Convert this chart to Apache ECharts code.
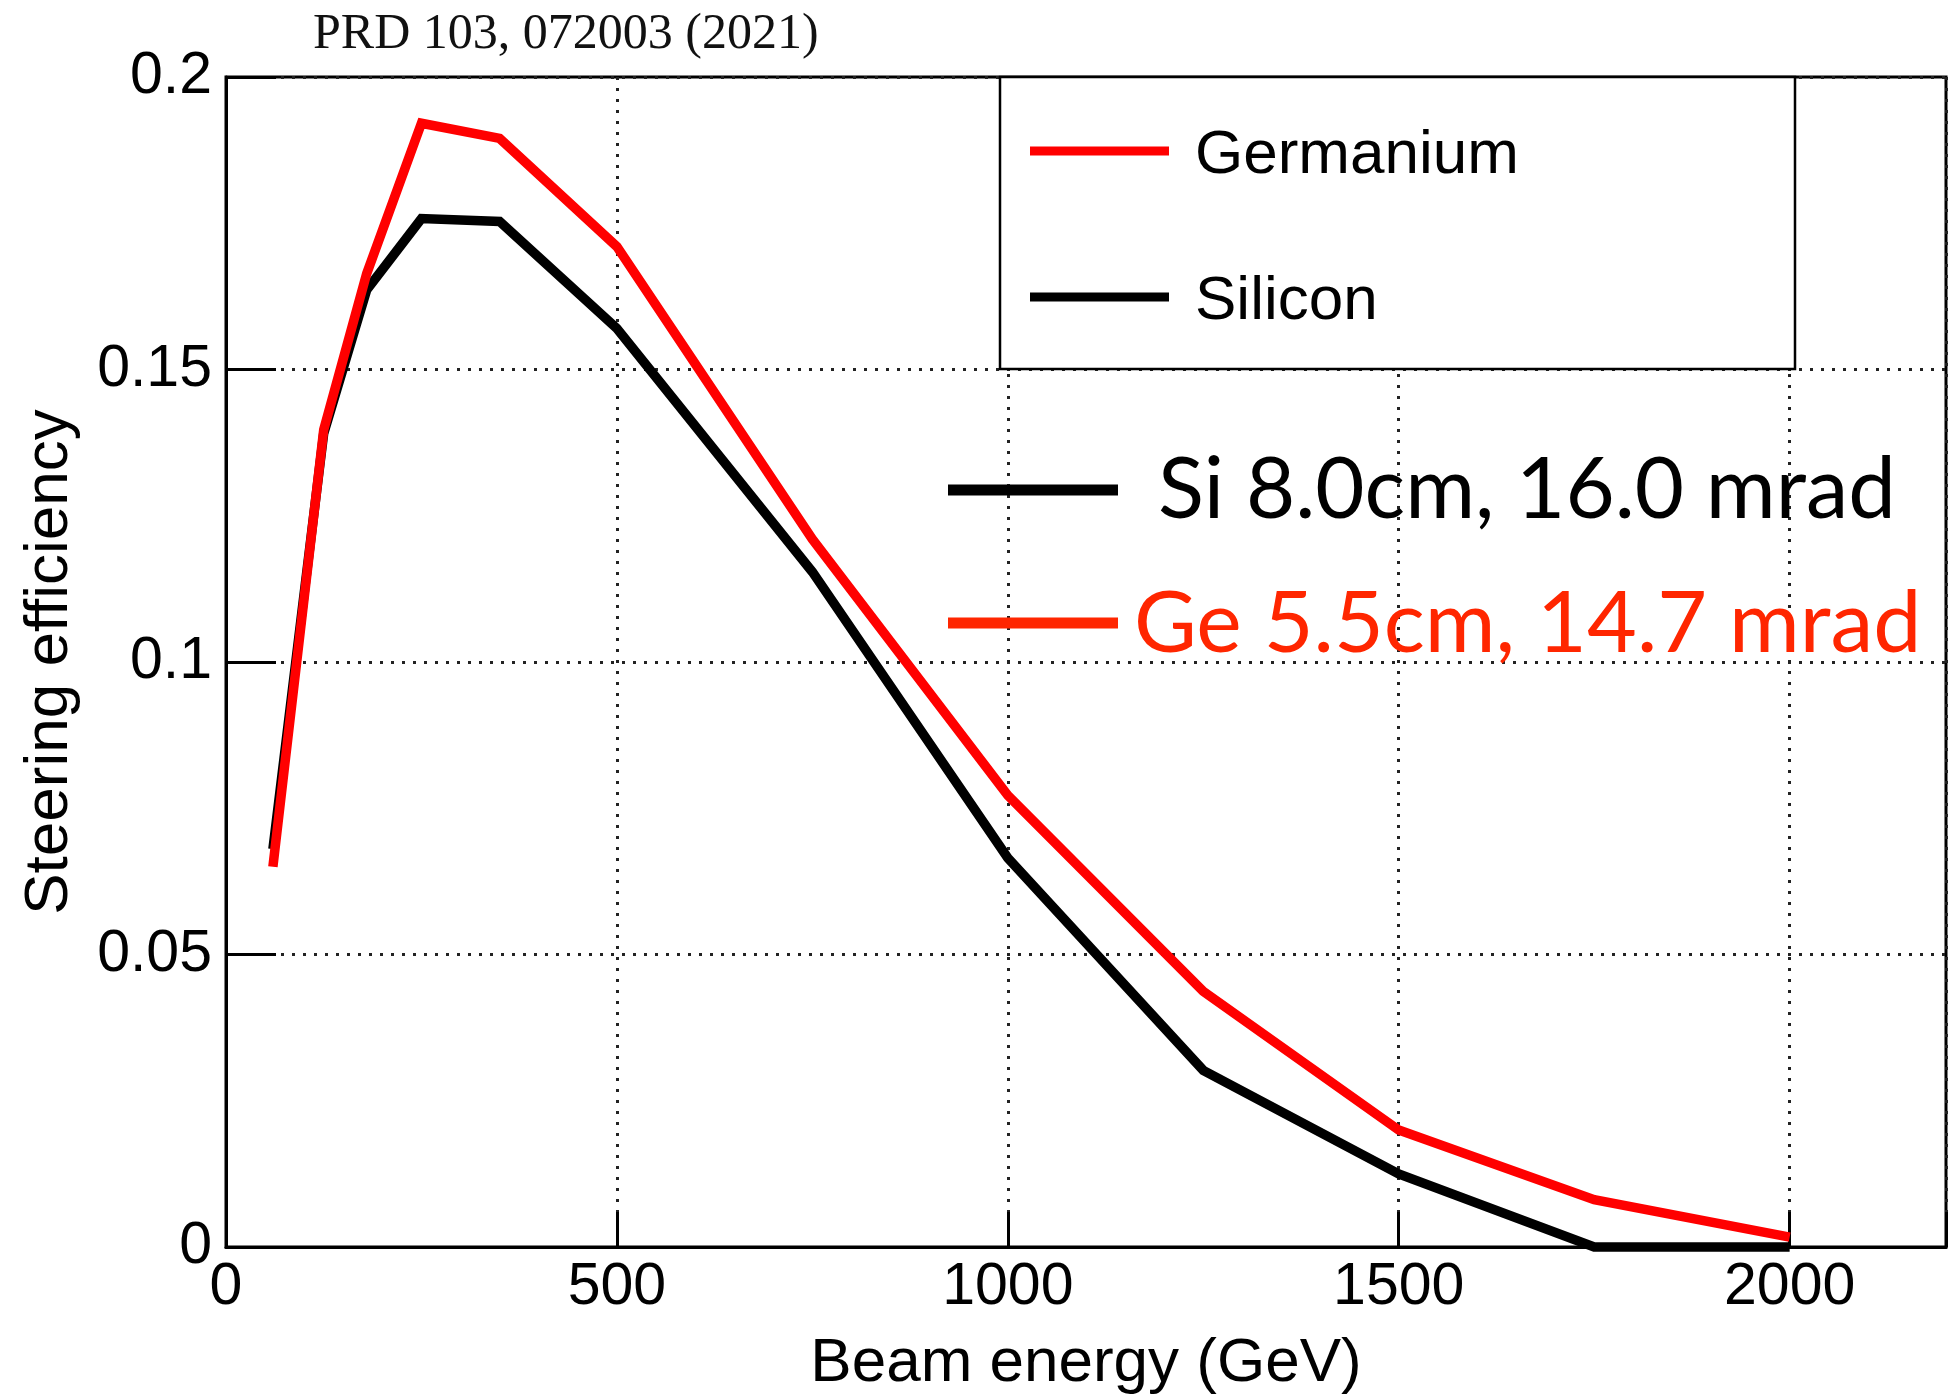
<!DOCTYPE html>
<html>
<head>
<meta charset="utf-8">
<script src="https://cdn.jsdelivr.net/npm/echarts@6/dist/echarts.min.js"></script>
<style>
  html, body { margin: 0; padding: 0; background: #fff; }
  #chart { width: 1949px; height: 1394px; }
</style>
</head>
<body>
<div id="chart"></div>
<script>
// ---- data ----
const energyGeV   = [60, 125, 180, 250, 350, 500, 750, 1000, 1250, 1500, 1750, 2000];
const germanium   = [0.065, 0.1397, 0.1664, 0.1921, 0.1895, 0.1710, 0.1210, 0.0772, 0.0437, 0.0200, 0.0081, 0.0017];
const silicon     = [0.068, 0.1391, 0.1636, 0.1758, 0.1753, 0.1570, 0.1154, 0.0665, 0.0302, 0.0125, 0.0, 0.0];
const xTickValues = [0, 500, 1000, 1500, 2000];
const xTickLabels = ['0', '500', '1000', '1500', '2000'];
const yTickValues = [0, 0.05, 0.1, 0.15, 0.2];
const yTickLabels = ['0', '0.05', '0.1', '0.15', '0.2'];
const seriesNames = ['Germanium', 'Silicon'];
const titleText   = 'PRD 103, 072003 (2021)';
const xTitle      = 'Beam energy (GeV)';
const yTitle      = 'Steering efficiency';
const noteSi      = 'Si 8.0cm, 16.0 mrad';
const noteGe      = 'Ge 5.5cm, 14.7 mrad';

const RED = '#ff0000';
const NOTE_RED = '#ff2600';
const SANS = '"Liberation Sans", Arial, Helvetica, sans-serif';

function labelFor(values, labels) {
  return function (v) {
    for (let i = 0; i < values.length; i++) {
      if (Math.abs(values[i] - v) < 1e-9) return labels[i];
    }
    return '';
  };
}

const chart = echarts.init(document.getElementById('chart'), null, { renderer: 'canvas' });

const dotted = { color: '#222', width: 3, type: [3, 8] };

const option = {
  backgroundColor: '#fff',
  animation: false,
  title: {
    text: titleText,
    left: 313,
    top: 9,
    padding: 0,
    textStyle: {
      fontFamily: '"Liberation Serif", "Times New Roman", serif',
      fontWeight: 'normal',
      fontSize: 50,
      lineHeight: 52,
      color: '#111'
    }
  },
  grid: {
    left: 226, right: 3, top: 77, bottom: 147,
    outerBoundsMode: 'none',
    containLabel: false,
    show: true, borderColor: '#000', borderWidth: 3,
    backgroundColor: 'transparent'
  },
  legend: {
    data: seriesNames,
    orient: 'vertical',
    left: 1030,
    top: 115,
    padding: 0,
    itemGap: 74,
    itemWidth: 139,
    itemHeight: 9,
    icon: 'rect',
    z: 30,
    itemStyle: { borderWidth: 0 },
    formatter: '{t|{name}}',
    textStyle: {
      fontFamily: SANS, fontSize: 62, lineHeight: 62, color: '#000',
      padding: [10, 0, 0, 21],
      rich: {
        t: { fontFamily: SANS, fontSize: 62, lineHeight: 62, color: '#000' }
      }
    },
    selectedMode: false
  },
  xAxis: {
    type: 'value',
    min: 0, max: 2200, interval: 500,
    name: xTitle,
    nameLocation: 'middle',
    nameGap: 86,
    nameTextStyle: { fontFamily: SANS, fontSize: 62, lineHeight: 62, color: '#000' },
    axisLine: { show: true, onZero: false, lineStyle: { color: '#000', width: 3 } },
    axisTick: { show: true, inside: true, length: 35, lineStyle: { color: '#000', width: 3 } },
    axisLabel: {
      margin: 11, fontFamily: SANS, fontSize: 59, lineHeight: 59, color: '#000',
      formatter: labelFor(xTickValues, xTickLabels)
    },
    splitLine: { show: true, lineStyle: dotted }
  },
  yAxis: {
    type: 'value',
    min: 0, max: 0.2, interval: 0.05,
    name: yTitle,
    nameLocation: 'middle',
    nameGap: 145,
    nameTextStyle: { fontFamily: SANS, fontSize: 62, lineHeight: 62, color: '#000' },
    axisLine: { show: true, onZero: false, lineStyle: { color: '#000', width: 3 } },
    axisTick: { show: true, inside: true, length: 50, lineStyle: { color: '#000', width: 3 } },
    axisLabel: {
      margin: 14, fontFamily: SANS, fontSize: 59, color: '#000',
      formatter: labelFor(yTickValues, yTickLabels)
    },
    splitLine: { show: true, lineStyle: dotted }
  },
  series: [
    {
      name: seriesNames[1],
      type: 'line',
      data: energyGeV.map((x, i) => [x, silicon[i]]),
      showSymbol: false,
      symbol: 'none',
      clip: false,
      color: '#000',
      itemStyle: { color: '#000' },
      lineStyle: { color: '#000', width: 9.5, join: 'miter', cap: 'butt' },
      z: 3
    },
    {
      name: seriesNames[0],
      type: 'line',
      data: energyGeV.map((x, i) => [x, germanium[i]]),
      showSymbol: false,
      symbol: 'none',
      clip: false,
      color: RED,
      itemStyle: { color: RED },
      lineStyle: { color: RED, width: 9.5, join: 'miter', cap: 'butt' },
      z: 4
    }
  ],
  graphic: [
    // legend frame (opaque, sits under the legend component)
    {
      type: 'rect', z: 10, silent: true,
      shape: { x: 1000, y: 77, width: 795, height: 292 },
      style: { fill: '#fff', stroke: '#000', lineWidth: 2.5 }
    },
    // annotation key
    {
      type: 'line', z: 10, silent: true,
      shape: { x1: 948, y1: 490, x2: 1118, y2: 490 },
      style: { stroke: '#000', lineWidth: 11 }
    },
    {
      type: 'text', z: 10, silent: true,
      style: {
        x: 1158, y: 491, text: noteSi, verticalAlign: 'middle',
        font: '85px Lato, "Open Sans", sans-serif', fill: '#000'
      }
    },
    {
      type: 'line', z: 10, silent: true,
      shape: { x1: 948, y1: 623, x2: 1118, y2: 623 },
      style: { stroke: NOTE_RED, lineWidth: 11 }
    },
    {
      type: 'text', z: 10, silent: true,
      style: {
        x: 1134, y: 624, text: noteGe, verticalAlign: 'middle',
        font: '86px Lato, "Open Sans", sans-serif', fill: NOTE_RED
      }
    }
  ]
};

chart.setOption(option);
</script>
</body>
</html>
